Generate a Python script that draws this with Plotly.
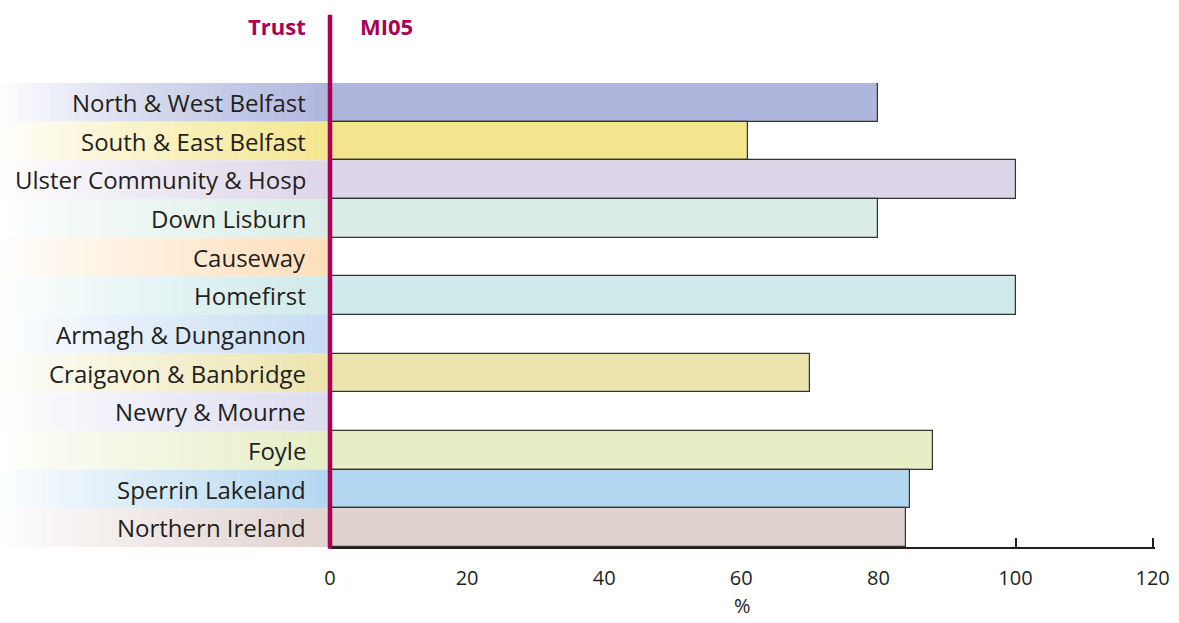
import plotly.graph_objects as go

trusts = ["North & West Belfast", "South & East Belfast", "Ulster Community & Hosp",
          "Down Lisburn", "Causeway", "Homefirst", "Armagh & Dungannon",
          "Craigavon & Banbridge", "Newry & Mourne", "Foyle", "Sperrin Lakeland",
          "Northern Ireland"]
values = [80, 61, 100, 80, 0, 100, 0, 70, 0, 88, 84.6, 84]
row_colors = ["#AEB6DD", "#F4E68E", "#DDD5E8", "#D9EDE6", "#FDDFBA", "#CFE9EA",
              "#C6DCF3", "#EBE4AC", "#DCDCF0", "#E5EEC4", "#B3D7F0", "#E0D3CF"]
x_ticks = [0, 20, 40, 60, 80, 100, 120]

CRIMSON = "#AA0055"
TEXT = "#231F20"
FONT = "Open Sans"

fig = go.Figure()
fig.add_trace(go.Bar(
    y=trusts, x=values, orientation="h",
    marker=dict(color=row_colors, line=dict(color="#333333", width=1.2)),
    width=1.0, hoverinfo="x+y",
))

def hex_to_rgb(h):
    h = h.lstrip("#")
    return tuple(int(h[i:i+2], 16) for i in (0, 2, 4))

shapes = []
L, R = 330, 825  # margin left px, plot width px
steps = 40
for i, c in enumerate(row_colors):
    r, g, b = hex_to_rgb(c)
    for s in range(steps):
        t = (s + 0.5) / steps
        t = t ** 0.85
        cr = round(255 + (r - 255) * t)
        cg = round(255 + (g - 255) * t)
        cb = round(255 + (b - 255) * t)
        x0 = -L / R + (L / R) * s / steps
        x1 = -L / R + (L / R) * (s + 1) / steps + 0.0005
        shapes.append(dict(type="rect", xref="paper", yref="y",
                           x0=x0, x1=min(x1, 0), y0=i - 0.5, y1=i + 0.5,
                           fillcolor=f"rgb({cr},{cg},{cb})", line=dict(width=0),
                           layer="below"))

# crimson vertical line
shapes.append(dict(type="line", xref="paper", yref="paper", x0=0, x1=0,
                   y0=-0.004, y1=1.147, line=dict(color=CRIMSON, width=4.5)))

annotations = []
for i, t in enumerate(trusts):
    annotations.append(dict(x=0, y=t, xref="x", yref="y", text=t, showarrow=False,
                            xanchor="right", xshift=-22,
                            font=dict(family=FONT, size=24, color=TEXT)))
annotations.append(dict(x=0, y=1.123, xref="paper", yref="paper", text="<b>Trust</b>",
                        showarrow=False, xanchor="right", yanchor="middle", xshift=-22,
                        font=dict(family=FONT, size=22, color=CRIMSON)))
annotations.append(dict(x=0, y=1.123, xref="paper", yref="paper", text="<b>MI05</b>",
                        showarrow=False, xanchor="left", yanchor="middle", xshift=28,
                        font=dict(family=FONT, size=22, color=CRIMSON)))
annotations.append(dict(x=0.5, y=-0.1595, xref="paper", yref="paper", text="%",
                        showarrow=False, xanchor="center", yanchor="bottom",
                        font=dict(family=FONT, size=20, color=TEXT)))

fig.update_layout(
    width=1179, height=623,
    margin=dict(l=330, r=24, t=83, b=76),
    paper_bgcolor="white", plot_bgcolor="rgba(0,0,0,0)",
    showlegend=False, bargap=0,
    shapes=shapes, annotations=annotations,
    font=dict(family=FONT, size=20, color=TEXT),
    xaxis=dict(range=[0, 120.35], tickvals=x_ticks, ticktext=[str(v) for v in x_ticks],
               showgrid=False, zeroline=False, showline=True, linecolor="#231F20",
               linewidth=2, ticks="inside", ticklen=9, tickwidth=2, tickcolor="#231F20",
               layer="below traces", ticklabelstandoff=12, automargin=False,
               tickfont=dict(family=FONT, size=20, color=TEXT),
               fixedrange=True),
    yaxis=dict(categoryorder="array", categoryarray=trusts, autorange="reversed",
               showticklabels=False, showgrid=False, zeroline=False, showline=False,
               fixedrange=True),
)

fig.write_html("out.html", config={"displayModeBar": False},
               post_script="document.body.style.margin='0';")
